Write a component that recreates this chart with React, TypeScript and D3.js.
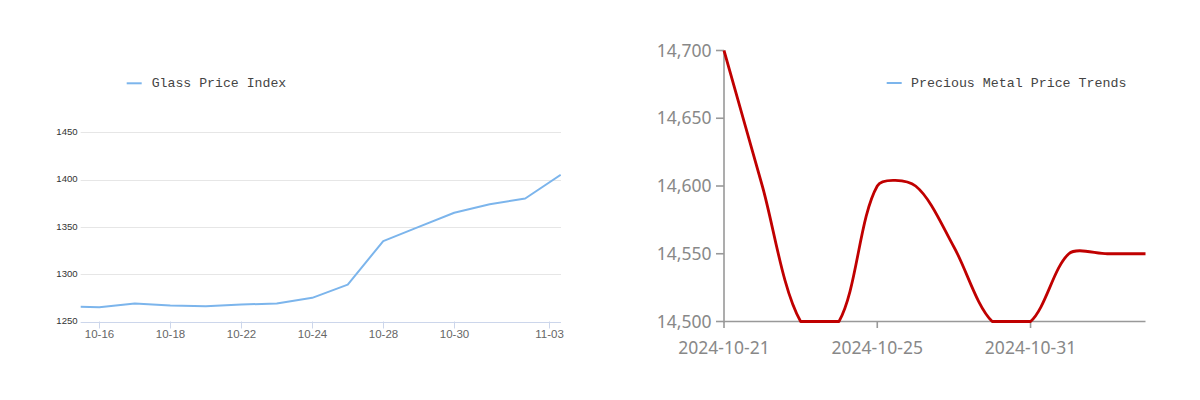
import React from "react";
import * as d3 from "d3";

// ---------- Data ----------
const glassDates = [
  "2024-10-15", "2024-10-16", "2024-10-17", "2024-10-18", "2024-10-21",
  "2024-10-22", "2024-10-23", "2024-10-24", "2024-10-25", "2024-10-28",
  "2024-10-29", "2024-10-30", "2024-10-31", "2024-11-01", "2024-11-04",
];
const glassValues = [1266, 1265, 1269, 1267, 1266, 1268, 1269, 1275, 1289, 1335, 1350, 1365, 1374, 1380, 1405];
const glassTickDates = ["2024-10-16", "2024-10-18", "2024-10-22", "2024-10-24", "2024-10-28", "2024-10-30", "2024-11-03"];
const glassYTicks = [1250, 1300, 1350, 1400, 1450];
const glassSeriesName = "Glass Price Index";

const metalDates = [
  "2024-10-21", "2024-10-22", "2024-10-23", "2024-10-24", "2024-10-25", "2024-10-28",
  "2024-10-29", "2024-10-30", "2024-10-31", "2024-11-01", "2024-11-04", "2024-11-05",
];
const metalValues = [14700, 14600, 14500, 14500, 14600, 14600, 14555, 14500, 14500, 14550, 14550, 14550];
const metalTickDates = ["2024-10-21", "2024-10-25", "2024-10-31"];
const metalYTicks = [14500, 14550, 14600, 14650, 14700];
const metalSeriesName = "Precious Metal Price Trends";

// ---------- ECharts(v4)-style smoothing as a d3 curve ----------
function makeEChartsSmooth(smooth: number) {
  return function (context: any) {
    let pts: [number, number][] = [];
    return {
      areaStart() {},
      areaEnd() {},
      lineStart() {
        pts = [];
      },
      point(x: number, y: number) {
        pts.push([+x, +y]);
      },
      lineEnd() {
        const n = pts.length;
        if (!n) return;
        const minX = d3.min(pts, (p) => p[0])!;
        const maxX = d3.max(pts, (p) => p[0])!;
        const minY = d3.min(pts, (p) => p[1])!;
        const maxY = d3.max(pts, (p) => p[1])!;
        const clamp = (c: [number, number]): [number, number] => [
          Math.max(minX, Math.min(maxX, c[0])),
          Math.max(minY, Math.min(maxY, c[1])),
        ];
        context.moveTo(pts[0][0], pts[0][1]);
        let cp0: [number, number] = [pts[0][0], pts[0][1]];
        let v: [number, number] = [0, 0];
        for (let i = 1; i < n; i++) {
          const p = pts[i];
          const prev = pts[i - 1];
          const next = pts[i + 1];
          let cp1: [number, number];
          let ratio = 0.5;
          if (!next) {
            cp1 = [p[0], p[1]];
          } else {
            v = [next[0] - prev[0], next[1] - prev[1]];
            const lp = Math.hypot(p[0] - prev[0], p[1] - prev[1]);
            const ln = Math.hypot(next[0] - p[0], next[1] - p[1]);
            ratio = ln / (ln + lp);
            cp1 = [p[0] - v[0] * smooth * (1 - ratio), p[1] - v[1] * smooth * (1 - ratio)];
          }
          cp0 = clamp(cp0);
          cp1 = clamp(cp1);
          context.bezierCurveTo(cp0[0], cp0[1], cp1[0], cp1[1], p[0], p[1]);
          cp0 = [p[0] + v[0] * smooth * ratio, p[1] + v[1] * smooth * ratio];
        }
      },
    };
  };
}

const parse = d3.utcParse("%Y-%m-%d");
const fmtMD = d3.utcFormat("%m-%d");

function GlassChart() {
  const left = 80.7;
  const right = 561;
  const times = glassDates.map((d) => parse(d)!.getTime());
  // ordinal (trading-day) axis: time -> index
  const ordinal = d3.scaleLinear().domain(times).range(times.map((_, i) => i));
  const xi = d3.scaleLinear().domain([1, glassDates.length - 1]).range([99.3, 560.7]);
  const x = (t: number) => xi(ordinal(t));
  const y = d3.scaleLinear().domain([1250, 1450]).range([321.5, 132.3]);

  const line = d3
    .line<number>()
    .x((_, i) => x(times[i]))
    .y((v) => y(v));

  return (
    <g>
      <defs>
        <clipPath id="glassClip">
          <rect x={left} y={100} width={right - left} height={240} />
        </clipPath>
      </defs>
      {glassYTicks.slice(1).map((t) => (
        <line key={t} x1={left} x2={right} y1={Math.round(y(t)) + 0.5} y2={Math.round(y(t)) + 0.5} stroke="#e6e6e6" strokeWidth={1} />
      ))}
      <line x1={left} x2={right} y1={Math.round(y(1250)) + 0.5} y2={Math.round(y(1250)) + 0.5} stroke="#ccd6eb" strokeWidth={1} />
      {glassTickDates.map((d) => {
        const px = Math.round(x(parse(d)!.getTime())) + 0.5;
        return (
          <g key={d}>
            <line x1={px} x2={px} y1={y(1250)} y2={y(1250) + 7} stroke="#ccd6eb" strokeWidth={1} />
            <text x={px} y={338.3} textAnchor="middle" fontFamily="Liberation Sans, Arial, sans-serif" fontSize={11.5} fill="#666">
              {fmtMD(parse(d)!)}
            </text>
          </g>
        );
      })}
      {glassYTicks.map((t) => (
        <text key={t} x={77.7} y={y(t) + 2.6} textAnchor="end" fontFamily="Liberation Sans, Arial, sans-serif" fontSize={9.6} fill="#333">
          {t}
        </text>
      ))}
      <path d={line(glassValues) || ""} fill="none" stroke="#7cb5ec" strokeWidth={2} strokeLinejoin="round" clipPath="url(#glassClip)" />
      <line x1={126.7} x2={141.7} y1={83.3} y2={83.3} stroke="#7cb5ec" strokeWidth={2} />
      <text x={151.7} y={87.2} fontFamily="Liberation Mono, monospace" fontSize={13.2} fill="#444">
        {glassSeriesName}
      </text>
    </g>
  );
}

function MetalChart() {
  const x = d3.scalePoint<string>().domain(metalDates).range([724, 1145.5]);
  const y = d3.scaleLinear().domain([14500, 14700]).range([321.5, 50.5]);
  const fmt = d3.format(",");
  const line = d3
    .line<number>()
    .x((_, i) => x(metalDates[i])!)
    .y((v) => y(v))
    .curve(makeEChartsSmooth(0.3) as any);
  const axisColor = "#999";
  const font = "Noto Sans, Liberation Sans, sans-serif";

  return (
    <g>
      <line x1={x.range()[0]} x2={x.range()[1]} y1={y(14500)} y2={y(14500)} stroke={axisColor} strokeWidth={1.6} />
      <line x1={724} x2={724} y1={y(14700)} y2={y(14500) + 1} stroke={axisColor} strokeWidth={1.6} />
      {metalYTicks.map((t) => (
        <g key={t}>
          <line x1={716} x2={724} y1={y(t)} y2={y(t)} stroke={axisColor} strokeWidth={1.6} />
          <text x={711.5} y={y(t) + 6.2} textAnchor="end" fontFamily={font} fontSize={17.5} fill="#888">
            {fmt(t)}
          </text>
        </g>
      ))}
      {metalTickDates.map((d) => (
        <g key={d}>
          <line x1={x(d)!} x2={x(d)!} y1={y(14500)} y2={y(14500) + 6.5} stroke={axisColor} strokeWidth={1.6} />
          <text x={x(d)!} y={354.3} textAnchor="middle" fontFamily={font} fontSize={17.5} fill="#888">
            {d}
          </text>
        </g>
      ))}
      <path d={line(metalValues) || ""} fill="none" stroke="#c00000" strokeWidth={2.8} strokeLinejoin="round" />
      <line x1={886.7} x2={901.7} y1={83} y2={83} stroke="#7cb5ec" strokeWidth={2} />
      <text x={911} y={87} fontFamily="Liberation Mono, monospace" fontSize={13.3} fill="#444">
        {metalSeriesName}
      </text>
    </g>
  );
}

export default function App() {
  return (
    <svg width={1200} height={400} style={{ position: "absolute", left: 0, top: 0, background: "#fff" }}>
      <rect x={0} y={0} width={1200} height={400} fill="#fff" />
      <GlassChart />
      <MetalChart />
    </svg>
  );
}
